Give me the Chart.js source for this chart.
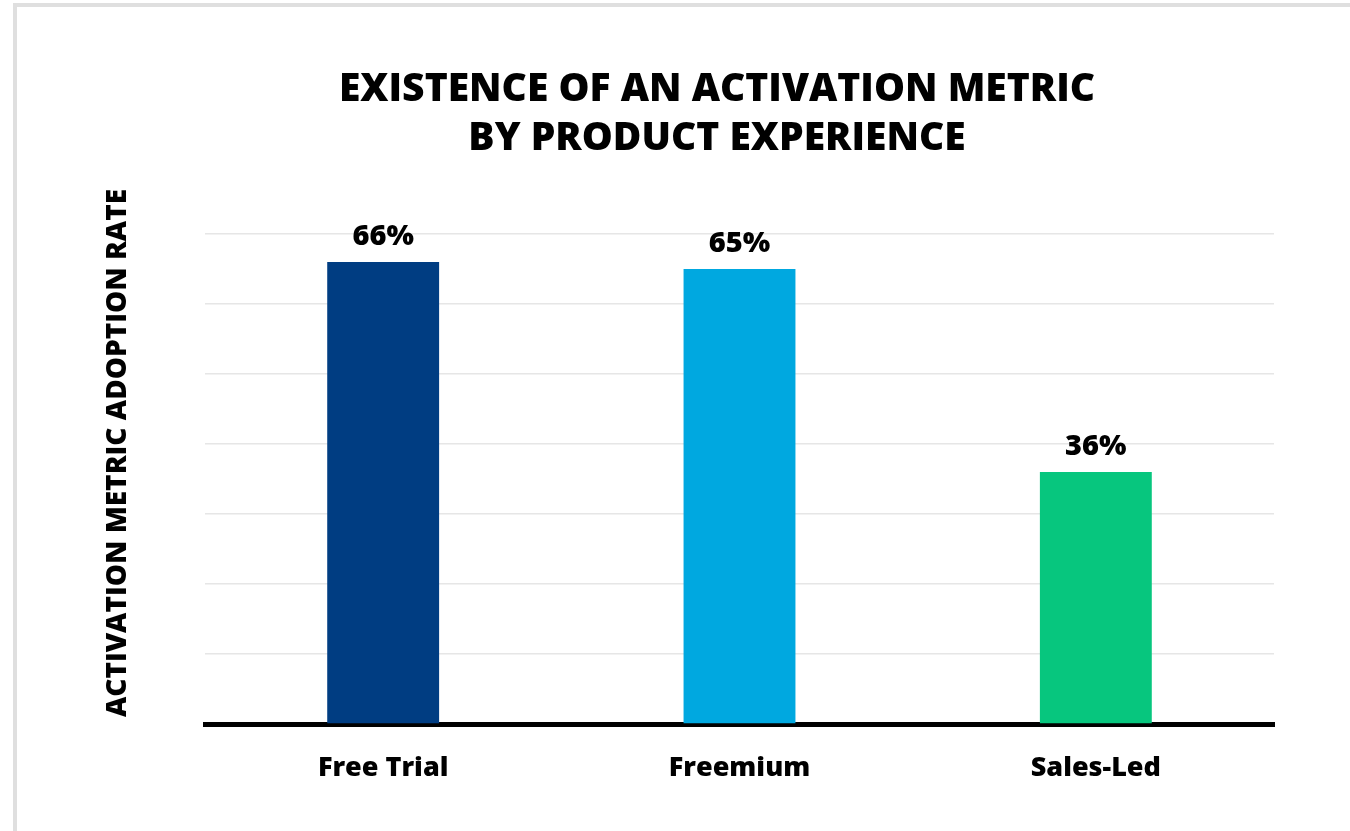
<!DOCTYPE html>
<html>
<head>
<meta charset="utf-8">
<script src="https://cdn.jsdelivr.net/npm/chart.js@4/dist/chart.umd.min.js"></script>
<style>
  html, body { margin: 0; padding: 0; background: #fff; overflow: hidden; width: 1350px; height: 831px; }
  #frame { position: absolute; left: 13px; top: 3px; width: 2000px; height: 2000px;
           border-left: 4px solid #dfdfdf; border-top: 4px solid #dfdfdf; box-sizing: border-box; }
  #c { position: absolute; left: 0; top: 0; }
</style>
</head>
<body>
<div id="frame"></div>
<canvas id="c" width="1350" height="831"></canvas>
<script>
const titleLines = ['EXISTENCE OF AN ACTIVATION METRIC', 'BY PRODUCT EXPERIENCE'];
const yAxisTitle = 'ACTIVATION METRIC ADOPTION RATE';
const categories = ['Free Trial', 'Freemium', 'Sales-Led'];
const adoptionRates = [66, 65, 36];
const barColors = ['#003d82', '#00a8e0', '#07c67e'];
const yMin = 0, yMax = 70, yStep = 10;

const FONT = '"Open Sans"';

const valueLabels = {
  id: 'valueLabels',
  afterDatasetsDraw(chart) {
    const ctx = chart.ctx;
    const meta = chart.getDatasetMeta(0);
    ctx.save();
    ctx.font = '800 29px ' + FONT;
    ctx.fillStyle = '#000';
    ctx.textAlign = 'center';
    ctx.textBaseline = 'alphabetic';
    meta.data.forEach((el, i) => {
      ctx.fillText(adoptionRates[i] + '%', el.x, el.y - 17);
    });
    ctx.restore();
  }
};

const yTitle = {
  id: 'yTitle',
  afterDraw(chart) {
    const ctx = chart.ctx;
    ctx.save();
    ctx.translate(118, 453);
    ctx.rotate(-Math.PI / 2);
    ctx.font = '800 28px ' + FONT;
    ctx.fillStyle = '#000';
    ctx.textAlign = 'center';
    ctx.textBaseline = 'middle';
    ctx.fillText(yAxisTitle, 0, 0);
    ctx.restore();
  }
};

new Chart(document.getElementById('c'), {
  type: 'bar',
  data: {
    labels: categories,
    datasets: [{
      data: adoptionRates,
      backgroundColor: barColors,
      borderWidth: 0,
      categoryPercentage: 1,
      barPercentage: 0.314
    }]
  },
  options: {
    responsive: false,
    devicePixelRatio: 1,
    animation: false,
    layout: { padding: { left: 84, right: 0, top: 0, bottom: 0 } },
    plugins: {
      legend: { display: false },
      tooltip: { enabled: false },
      title: {
        display: true,
        text: titleLines,
        color: '#000',
        font: { family: FONT, size: 39, weight: '800', lineHeight: 1.25 },
        padding: { top: 66, bottom: 70.5 }
      }
    },
    scales: {
      x: {
        grid: { display: false, drawTicks: false },
        border: { display: true, color: '#000', width: 5 },
        ticks: { color: '#000', padding: 28, font: { family: FONT, size: 27, weight: '800' } },
        afterFit(s) { s.height = 107; }
      },
      y: {
        min: yMin, max: yMax,
        ticks: { display: false, stepSize: yStep },
        grid: { color: '#e6e6e6', lineWidth: 1.5, drawTicks: false },
        border: { display: false },
        afterFit(s) { s.width = 121; }
      },
      y2: {
        type: 'linear',
        position: 'right',
        display: true,
        ticks: { display: false },
        grid: { display: false, drawTicks: false },
        border: { display: false },
        afterFit(s) { s.width = 76; }
      }
    }
  },
  plugins: [valueLabels, yTitle]
});
</script>
</body>
</html>
